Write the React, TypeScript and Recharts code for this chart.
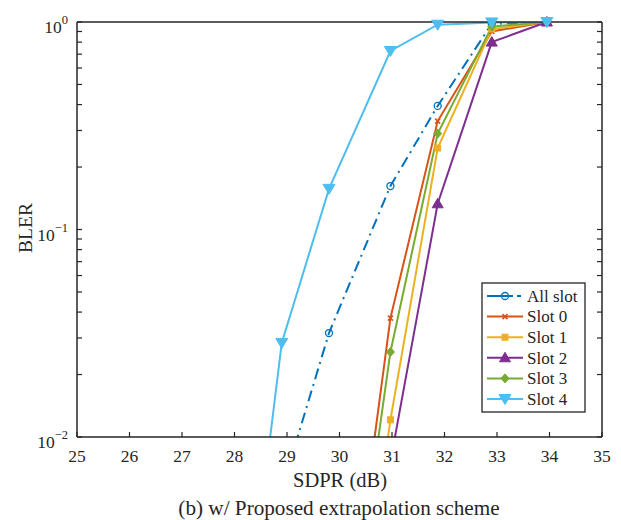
import { LineChart, Line, XAxis, YAxis } from "recharts";

// SDPR grid (dB) shared by all series
const sdpr = [28.0, 28.9, 29.8, 30.97, 31.87, 32.9, 33.95];

// BLER per series (values below 1e-2 fall outside the plot and are clipped)
const allSlot = [null, 0.0056, 0.0317, 0.162, 0.394, 0.98, 1.0];
const slot0 = [null, null, 0.00022, 0.0374, 0.333, 0.9, 1.0];
const slot1 = [null, null, 0.0001, 0.0121, 0.247, 0.925, 1.0];
const slot2 = [null, null, null, 0.0076, 0.133, 0.8, 1.0];
const slot3 = [null, null, 0.0002, 0.0257, 0.29, 0.95, 1.0];
const slot4 = [0.0004, 0.0284, 0.157, 0.725, 0.97, 0.995, 1.0];

const xTicks = [25, 26, 27, 28, 29, 30, 31, 32, 33, 34, 35];
const yTicks = [
  0.01, 0.02, 0.03, 0.04, 0.05, 0.06, 0.07, 0.08, 0.09,
  0.1, 0.2, 0.3, 0.4, 0.5, 0.6, 0.7, 0.8, 0.9, 1,
];
const yDecades = [0.01, 0.1, 1];
const yDecadeExp = ["\u22122", "\u22121", "0"];

const AXIS = "#262626";
const FONT = "Liberation Serif, Times New Roman, serif";

const series = [
  { key: "allSlot", name: "All slot", values: allSlot, color: "#0072BD", marker: "circle", dash: "11 5 2 5" },
  { key: "slot0", name: "Slot 0", values: slot0, color: "#D95319", marker: "x", dash: undefined },
  { key: "slot1", name: "Slot 1", values: slot1, color: "#EDB120", marker: "square", dash: undefined },
  { key: "slot2", name: "Slot 2", values: slot2, color: "#7E2F8E", marker: "up", dash: undefined },
  { key: "slot3", name: "Slot 3", values: slot3, color: "#77AC30", marker: "diamond", dash: undefined },
  { key: "slot4", name: "Slot 4", values: slot4, color: "#4DBEEE", marker: "down", dash: undefined },
];

const rows = sdpr.map((x, i) => {
  const r: any = { sdpr: x };
  series.forEach((s) => {
    const v = s.values[i];
    r[s.key] = v;
    // visible-only copy used for the markers (not clipped at the border)
    r[s.key + "M"] = v !== null && v >= 0.01 ? v : null;
  });
  return r;
});

function Marker({ kind, cx, cy, color }: { kind: string; cx: number; cy: number; color: string }) {
  switch (kind) {
    case "circle":
      return <circle cx={cx} cy={cy} r={3.5} fill="none" stroke={color} strokeWidth={1.3} />;
    case "x":
      return (
        <path
          d={`M${cx - 2.5},${cy - 2.5}L${cx + 2.5},${cy + 2.5}M${cx - 2.5},${cy + 2.5}L${cx + 2.5},${cy - 2.5}`}
          stroke={color}
          strokeWidth={1.6}
        />
      );
    case "square":
      return <rect x={cx - 3} y={cy - 3} width={6} height={6} fill={color} stroke={color} />;
    case "up":
      return (
        <polygon
          points={`${cx},${cy - 5.5} ${cx + 5.5},${cy + 4} ${cx - 5.5},${cy + 4}`}
          fill={color}
          stroke={color}
        />
      );
    case "diamond":
      return (
        <polygon
          points={`${cx},${cy - 4.5} ${cx + 4},${cy} ${cx},${cy + 4.5} ${cx - 4},${cy}`}
          fill={color}
          stroke={color}
        />
      );
    default:
      return (
        <polygon
          points={`${cx - 6},${cy - 4.5} ${cx + 6},${cy - 4.5} ${cx},${cy + 5.5}`}
          fill={color}
          stroke={color}
        />
      );
  }
}

const makeDot = (kind: string, color: string) => (p: any) => {
  const { cx, cy, index } = p;
  if (cx == null || cy == null || isNaN(cx) || isNaN(cy)) return <g key={`n${index}`} />;
  return (
    <g key={`d${index}`}>
      <Marker kind={kind} cx={cx} cy={cy} color={color} />
    </g>
  );
};

const txt = (size: number) => ({ fontFamily: FONT, fontSize: size, fill: AXIS });

const LeftTick = (p: any) => {
  const { x, y, payload } = p;
  const i = yDecades.indexOf(payload.value);
  return (
    <g>
      <line x1={x} x2={x + 5} y1={y} y2={y} stroke={AXIS} strokeWidth={1.2} />
      {i >= 0 && (
        <text x={x - 9} y={y + 11} textAnchor="end" style={txt(17.5)}>
          <tspan>10</tspan>
          <tspan dy={-9} style={{ fontSize: 12.5 }}>{yDecadeExp[i]}</tspan>
        </text>
      )}
    </g>
  );
};

const RightTick = (p: any) => (
  <line x1={p.x} x2={p.x - 5} y1={p.y} y2={p.y} stroke={AXIS} strokeWidth={1.2} />
);

const BottomTick = (p: any) => {
  const { x, y, payload } = p;
  return (
    <g>
      <line x1={x} x2={x} y1={y} y2={y - 5} stroke={AXIS} strokeWidth={1.2} />
      <text x={x} y={y + 25} textAnchor="middle" style={txt(17.5)}>
        {payload.value}
      </text>
    </g>
  );
};

const TopTick = (p: any) => (
  <line x1={p.x} x2={p.x} y1={p.y} y2={p.y + 5} stroke={AXIS} strokeWidth={1.2} />
);

function LegendBox() {
  const left = 482;
  const top = 283;
  const rowH = 20.6;
  return (
    <g>
      <rect x={left} y={top} width={103} height={129} fill="#fff" stroke={AXIS} strokeWidth={1.3} />
      {series.map((s, i) => {
        const cy = top + 13 + i * rowH;
        return (
          <g key={s.key}>
            {s.dash ? (
              <g>
                <line x1={487} x2={513} y1={cy} y2={cy} stroke={s.color} strokeWidth={2} />
                <line x1={517} x2={521} y1={cy} y2={cy} stroke={s.color} strokeWidth={2} />
              </g>
            ) : (
              <line x1={487} x2={523} y1={cy} y2={cy} stroke={s.color} strokeWidth={2} />
            )}
            <Marker kind={s.marker} cx={505} cy={cy} color={s.color} />
            <text x={527} y={cy + 5.7} style={txt(17)}>
              {s.name}
            </text>
          </g>
        );
      })}
    </g>
  );
}

export default function App() {
  return (
    <div
      style={{
        position: "absolute",
        left: 0,
        top: 0,
        width: 621,
        height: 520,
        background: "#fff",
        fontFamily: FONT,
      }}
    >
      <LineChart width={621} height={520} data={rows} margin={{ top: 0, right: 0, bottom: 0, left: 0 }}>
        <XAxis
          dataKey="sdpr"
          type="number"
          domain={[25, 35]}
          ticks={xTicks}
          interval={0}
          height={83}
          tickSize={0}
          tickMargin={0}
          tick={BottomTick}
          tickLine={false}
          axisLine={{ stroke: AXIS, strokeWidth: 1.5 }}
        />
        <XAxis
          xAxisId="t"
          orientation="top"
          type="number"
          domain={[25, 35]}
          ticks={xTicks}
          interval={0}
          height={22}
          tickSize={0}
          tickMargin={0}
          tick={TopTick}
          tickLine={false}
          axisLine={{ stroke: AXIS, strokeWidth: 1.5 }}
        />
        <YAxis
          scale="log"
          type="number"
          domain={[0.01, 1]}
          allowDataOverflow
          ticks={yTicks}
          interval={0}
          width={77}
          tickSize={0}
          tickMargin={0}
          tick={LeftTick}
          tickLine={false}
          axisLine={{ stroke: AXIS, strokeWidth: 1.5 }}
        />
        <YAxis
          yAxisId="r"
          orientation="right"
          scale="log"
          type="number"
          domain={[0.01, 1]}
          ticks={yTicks}
          interval={0}
          width={19}
          tickSize={0}
          tickMargin={0}
          tick={RightTick}
          tickLine={false}
          axisLine={{ stroke: AXIS, strokeWidth: 1.5 }}
        />
        {series.map((s) => (
          <Line
            key={s.key}
            dataKey={s.key}
            name={s.name}
            stroke={s.color}
            strokeWidth={2}
            strokeDasharray={s.dash}
            dot={false}
            activeDot={false}
            isAnimationActive={false}
          />
        ))}
        {series.map((s) => (
          <Line
            key={s.key + "M"}
            yAxisId="r"
            dataKey={s.key + "M"}
            stroke="none"
            legendType="none"
            dot={makeDot(s.marker, s.color)}
            activeDot={false}
            isAnimationActive={false}
          />
        ))}
      </LineChart>
      <svg
        width={621}
        height={520}
        style={{ position: "absolute", left: 0, top: 0, pointerEvents: "none" }}
      >
        <LegendBox />
        <text x={340} y={487} textAnchor="middle" style={txt(20.5)}>
          SDPR (dB)
        </text>
        <text x={339} y={515} textAnchor="middle" style={txt(21.2)}>
          (b) w/ Proposed extrapolation scheme
        </text>
        <text x={0} y={0} transform="translate(32,228) rotate(-90)" textAnchor="middle" style={txt(19.6)}>
          BLER
        </text>
      </svg>
    </div>
  );
}
